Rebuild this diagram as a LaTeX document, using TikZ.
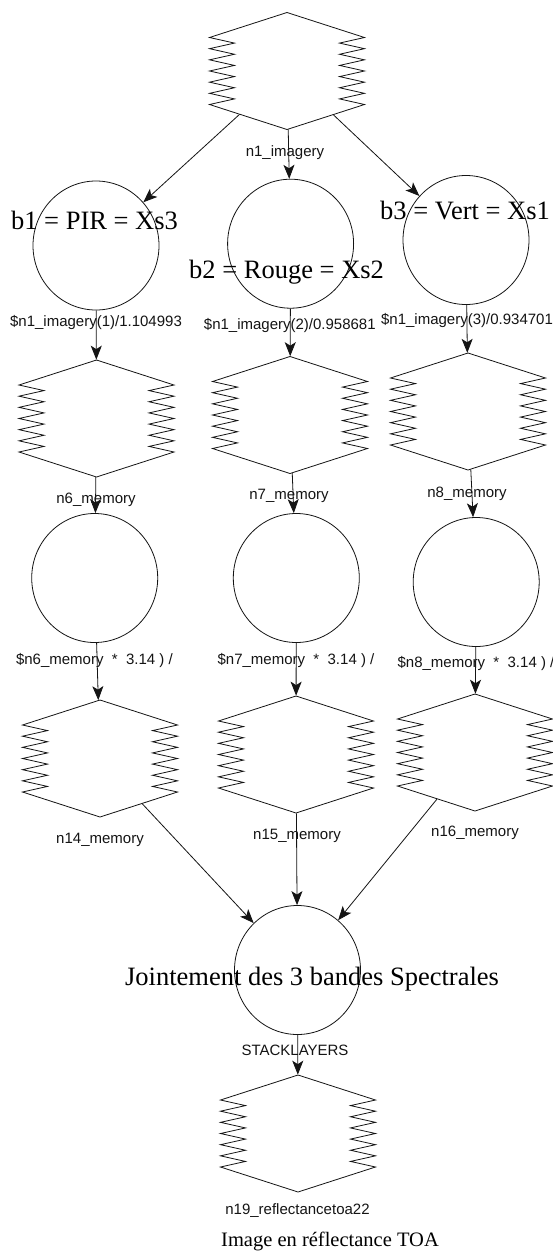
\documentclass[tikz,border=0pt]{standalone}
\usepackage{fontspec}
\setmainfont{Liberation Serif}
\setsansfont{Liberation Sans}
\usepackage{tikz}
\usetikzlibrary{shapes.geometric, shapes.symbols, arrows.meta}
\definecolor{mydark}{RGB}{20,20,20}
\tikzset{
  memory/.style={signal, signal to=north and south, signal pointer angle=144,
    minimum width=155pt, minimum height=67pt, inner sep=0pt},
  func/.style={ellipse, draw=mydark, minimum width=126pt, minimum height=129pt,
    inner sep=0pt, line width=0.8pt},
  outline/.style={draw=mydark, line width=0.8pt, line join=miter},
  arrow/.style={-{Stealth[length=14pt, width=11pt, inset=3.5pt]}, line width=0.8pt, color=mydark},
  lbl/.style={font=\sffamily\fontsize{15}{17}\selectfont, inner sep=0pt, text=mydark},
  bigtitle/.style={font=\fontsize{26.5}{30}\selectfont, inner sep=0pt, anchor=base},
  smalltitle/.style={font=\fontsize{20.5}{24}\selectfont, inner sep=0pt, anchor=base}
}

\begin{document}
\begin{tikzpicture}[x=1pt, y=-1pt]
  \path[fill=white, use as bounding box] (0,0) rectangle (553,1251);

  % memory (raster) nodes
  \node[memory] (n1)  at (287,71)      {};
  \node[memory] (n6)  at (96.5,418.5)  {};
  \node[memory] (n7)  at (290,415)     {};
  \node[memory] (n8)  at (468,411.5)   {};
  \node[memory] (n14) at (100,758.5)   {};
  \node[memory] (n15) at (296,754.5)   {};
  \node[memory] (n16) at (475,752.5)   {};
  \node[memory] (n19) at (298,1133.5)  {};

  % function nodes
  \node[func] (b1)    at (96,245.5)    {};
  \node[func] (b2)    at (290.6,243.7) {};
  \node[func] (b3)    at (466,240)     {};
  \node[func] (f6)    at (94.7,578)    {};
  \node[func] (f7)    at (296.3,578)   {};
  \node[func] (f8)    at (476.2,582)   {};
  \node[func] (stack) at (297.5,970)   {};

  % hexagon outline with saw-tooth sides
  \foreach \m in {n1,n6,n7,n8,n14,n15,n16,n19}
    \draw[outline] ([yshift=58.5pt]\m.center) -- ++(-77.5,25)
      \foreach \k in {1,...,6}{ -- ++(25,5.583) -- ++(-25,5.583) }
      -- ++(77.5,25) -- ++(77.5,-25)
      \foreach \k in {1,...,6}{ -- ++(-25,-5.583) -- ++(25,-5.583) }
      -- cycle;

  % connectors
  \foreach \a/\b in {n1/b1, n1/b2, n1/b3, b1/n6, b2/n7, b3/n8,
                     n6/f6, n7/f7, n8/f8, f6/n14, f7/n15, f8/n16,
                     n14/stack, n15/stack, n16/stack, stack/n19}
    \draw[arrow] (\a) -- (\b);

  % node labels
  \node[lbl] (ln1)  at (285,153)   {n1\_imagery};
  \node[lbl] (lb1)  at (96,322)    {\$n1\_imagery(1)/1.104993};
  \node[lbl] (lb2)  at (289.8,325) {\$n1\_imagery(2)/0.958681};
  \node[lbl] (lb3)  at (467,320.5) {\$n1\_imagery(3)/0.934701};
  \node[lbl] (ln6)  at (96,500)    {n6\_memory};
  \node[lbl] (ln7)  at (289,496)   {n7\_memory};
  \node[lbl] (ln8)  at (467,494)   {n8\_memory};
  \node[lbl] (lf6)  at (94.4,660)  {\$n6\_memory\ \ *\ \ 3.14 ) /};
  \node[lbl] (lf7)  at (296,660)   {\$n7\_memory\ \ *\ \ 3.14 ) /};
  \node[lbl] (lf8)  at (476,663)   {\$n8\_memory\ \ *\ \ 3.14 ) /};
  \node[lbl] (ln14) at (100,840)   {n14\_memory};
  \node[lbl] (ln15) at (297,836)   {n15\_memory};
  \node[lbl] (ln16) at (475,833)   {n16\_memory};
  \node[lbl] (lst)  at (295,1050)  {STACKLAYERS};
  \node[lbl] (ln19) at (297.5,1211) {n19\_reflectancetoa22};

  % annotations
  \node[bigtitle] (tb1) at (94.5,229)  {b1 = PIR = Xs3};
  \node[bigtitle] (tb2) at (286.6,278) {b2 = Rouge = Xs2};
  \node[bigtitle] (tb3) at (465,219)   {b3 = Vert = Xs1};
  \node[bigtitle] (tjoin) at (312,985) {Jointement des 3 bandes Spectrales};
  \node[smalltitle] (timg) at (330,1246.5) {Image en réflectance TOA};
\end{tikzpicture}
\end{document}
